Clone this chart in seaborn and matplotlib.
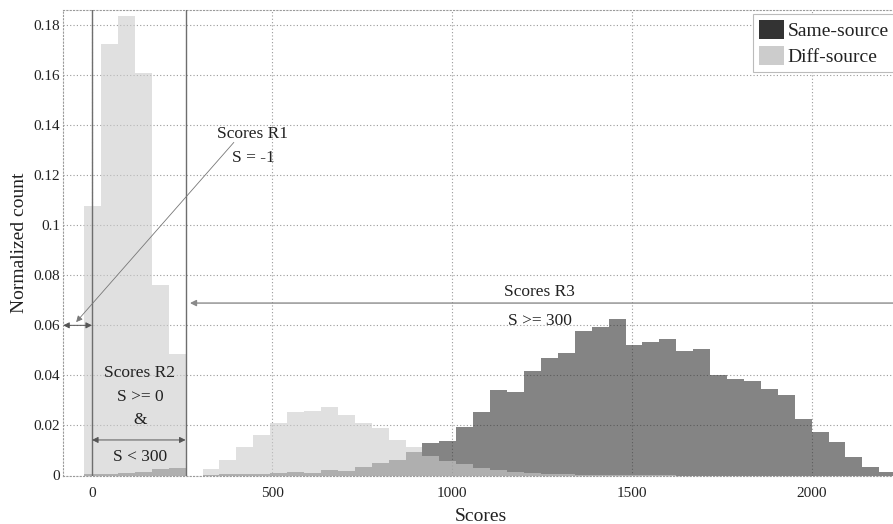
import numpy as np
import pandas as pd
import matplotlib
matplotlib.use("Agg")
import matplotlib.pyplot as plt
from matplotlib.patches import Patch
import seaborn as sns

# ---------------- data ----------------
bin_start = -22
bin_width = 47
n_bins = 48

diff_source = [0.1076, 0.1725, 0.1838, 0.1608, 0.0760, 0.0484, 0.0, 0.0025,
               0.0060, 0.0115, 0.0162, 0.0208, 0.0255, 0.0259, 0.0272, 0.0240,
               0.0211, 0.0188, 0.0142, 0.0115, 0.0079, 0.0057, 0.0046, 0.0029,
               0.0020, 0.0012, 0.0008, 0.0006, 0.0004, 0.0003, 0.0003, 0.0002,
               0.0002, 0.0001, 0.0001, 0.0, 0.0, 0.0, 0.0, 0.0,
               0.0, 0.0, 0.0, 0.0, 0.0, 0.0, 0.0, 0.0]

same_source = [0.0005, 0.0006, 0.0009, 0.0015, 0.0025, 0.0031, 0.0, 0.0003,
               0.0004, 0.0005, 0.0006, 0.0009, 0.0014, 0.0011, 0.0021, 0.0018,
               0.0033, 0.0050, 0.0061, 0.0093, 0.0129, 0.0136, 0.0192, 0.0252,
               0.0341, 0.0332, 0.0418, 0.0470, 0.0488, 0.0578, 0.0592, 0.0625,
               0.0522, 0.0532, 0.0544, 0.0496, 0.0504, 0.0401, 0.0385, 0.0376,
               0.0344, 0.0320, 0.0226, 0.0173, 0.0135, 0.0073, 0.0035, 0.0013]

series_labels = ["Same-source", "Diff-source"]
x_ticks = [0, 500, 1000, 1500, 2000]
x_tick_labels = ["0", "500", "1000", "1500", "2000"]
y_ticks = [0, 0.02, 0.04, 0.06, 0.08, 0.10, 0.12, 0.14, 0.16, 0.18]
y_tick_labels = ["0", "0.02", "0.04", "0.06", "0.08", "0.1", "0.12", "0.14", "0.16", "0.18"]

region_lines = [0, 260]

# ---------------- figure ----------------
sns.set_style("white")
plt.rcParams["font.family"] = ["Liberation Serif", "DejaVu Serif"]

W, H = 893, 524
fig = plt.figure(figsize=(W / 100, H / 100), dpi=100)
xlim = (-80, 2240)
px_per_unit = 0.36
ax_left_px = 92 + px_per_unit * xlim[0]
ax_right_px = 92 + px_per_unit * xlim[1]
ax = fig.add_axes([ax_left_px / W, 1 - 475.5 / H,
                   (ax_right_px - ax_left_px) / W, (475.5 - 10) / H])

edges = [float(bin_start + bin_width * k) for k in range(n_bins + 1)]
centers = [(edges[k] + edges[k + 1]) / 2 for k in range(n_bins)]
df = pd.DataFrame({"score": centers + centers,
                   "value": same_source + diff_source,
                   "series": [series_labels[0]] * n_bins + [series_labels[1]] * n_bins})

colors = {"Same-source": "#333333", "Diff-source": "#cccccc"}
for name in series_labels:
    sub = df[df["series"] == name].reset_index(drop=True)
    sns.histplot(data=sub, x="score", weights="value", bins=edges,
                 element="step", fill=True, linewidth=0, color=colors[name],
                 alpha=0.6, ax=ax, zorder=2)

ax.set_xlim(*xlim)
ax.set_ylim(0, 0.186)
ax.set_xticks(x_ticks)
ax.set_xticklabels(x_tick_labels)
ax.set_yticks(y_ticks)
ax.set_yticklabels(y_tick_labels)
ax.tick_params(axis="x", direction="in", length=7, width=0.8, color="#555555",
               labelsize=11, labelcolor="#222222", pad=8)
ax.tick_params(axis="y", length=0, labelsize=11, labelcolor="#222222", pad=2)

ax.set_axisbelow(True)
ax.grid(True, linestyle=(0, (1, 2)), linewidth=0.8, color="#9a9a9a")
for side in ["left", "bottom", "top"]:
    ax.spines[side].set_visible(True)
    ax.spines[side].set_linestyle((0, (1, 2)))
    ax.spines[side].set_color("#9a9a9a")
    ax.spines[side].set_linewidth(0.8)
ax.spines["right"].set_visible(False)

ax.set_xlabel("Scores", fontsize=14, color="#222222", labelpad=6)
ax.set_ylabel("Normalized count", fontsize=14, color="#222222", labelpad=4)

# region separators
for xv in region_lines:
    ax.axvline(xv, color="#6e6e6e", linewidth=1.0, zorder=3)

txt_kw = dict(fontsize=12.5, color="#222222", ha="center", va="center", zorder=5)
arr_kw = dict(color="#555555", lw=0.7, mutation_scale=9, shrinkA=0, shrinkB=0)

# Region R1
ax.text(447, 0.1363, "Scores R1", **txt_kw)
ax.text(447, 0.1267, "S = -1", **txt_kw)
ax.annotate("", xy=(-44, 0.0613), xytext=(394, 0.1331),
            arrowprops=dict(arrowstyle="-|>", **{**arr_kw, "lw": 0.6, "color": "#777777"}))
ax.annotate("", xy=(xlim[0], 0.060), xytext=(0, 0.060),
            arrowprops=dict(arrowstyle="<|-|>", **arr_kw))

# Region R2
ax.text(133, 0.0409, "Scores R2", **txt_kw)
ax.text(133, 0.0313, "S >= 0", **txt_kw)
ax.text(133, 0.0222, "&", **txt_kw)
ax.text(133, 0.0074, "S < 300", **txt_kw)
ax.annotate("", xy=(0, 0.0142), xytext=(260, 0.0142),
            arrowprops=dict(arrowstyle="<|-|>", **arr_kw))

# Region R3
ax.text(1244, 0.0733, "Scores R3", **txt_kw)
ax.text(1244, 0.0617, "S >= 300", **txt_kw)
ax.annotate("", xy=(272, 0.0689), xytext=(xlim[1], 0.0689),
            arrowprops=dict(arrowstyle="-|>", **{**arr_kw, "lw": 1.0, "color": "#8a8a8a"}))

# legend
handles = [Patch(facecolor=colors[n], edgecolor="none", label=n) for n in series_labels]
leg = ax.legend(handles=handles, loc="upper left",
                bbox_to_anchor=(753 / W, 1 - 14 / H), bbox_transform=fig.transFigure,
                frameon=True, fancybox=False, framealpha=1, edgecolor="#bbbbbb",
                fontsize=14, handlelength=1.27, handleheight=1.13,
                handletextpad=0.2, borderpad=0.3, labelspacing=0.3, borderaxespad=0)
leg.get_frame().set_linewidth(0.8)
for t in leg.get_texts():
    t.set_color("#222222")

fig.savefig("out.png", dpi=100)
